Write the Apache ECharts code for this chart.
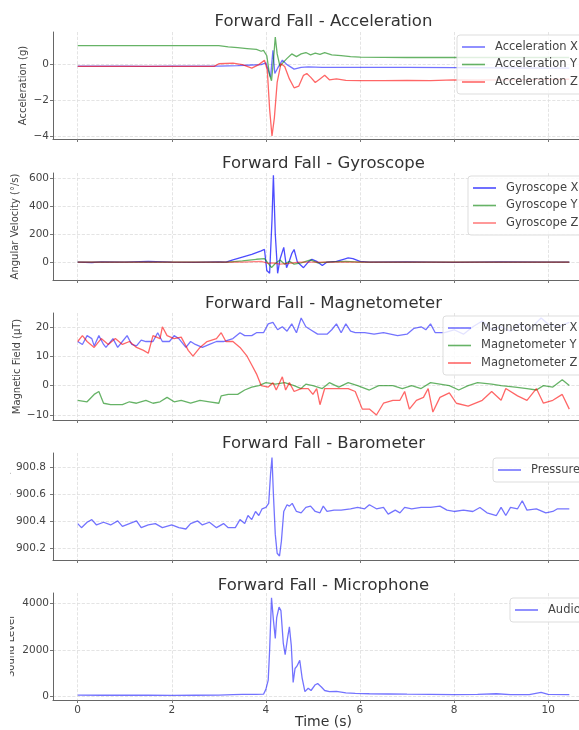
<!DOCTYPE html>
<html>
<head>
<meta charset="utf-8">
<script src="https://cdn.jsdelivr.net/npm/echarts@6/dist/echarts.min.js"></script>
<style>html,body{margin:0;padding:0;background:#fff}#c{width:579px;height:730px}</style>
</head>
<body>
<div id="c"></div>
<script>
// ---- data ([time s, value]) ----
const xTicks = [0, 2, 4, 6, 8, 10];

const accX = [[0,-0.08],[1,-0.08],[1.5,-0.1],[2,-0.08],[3,-0.08],[3.4,-0.05],[3.7,-0.02],[3.9,0.0],[4.0,0.1],[4.05,-0.3],[4.1,-0.7],[4.15,0.8],[4.19,-0.5],[4.25,-0.2],[4.35,0.25],[4.45,0.0],[4.6,-0.25],[4.75,-0.15],[4.9,-0.12],[5.2,-0.15],[6,-0.15],[7,-0.15],[8,-0.17],[9,-0.18],[10,-0.2],[10.45,-0.2]];
const accY = [[0,1.07],[1,1.07],[2,1.07],[3.0,1.07],[3.2,1.0],[3.4,0.95],[3.6,0.9],[3.8,0.85],[3.9,0.75],[3.95,0.8],[4.02,0.5],[4.08,-0.6],[4.12,-0.9],[4.16,0.2],[4.2,1.55],[4.24,0.6],[4.3,-0.1],[4.36,0.1],[4.45,0.35],[4.55,0.6],[4.65,0.45],[4.75,0.6],[4.85,0.68],[4.95,0.55],[5.05,0.65],[5.15,0.58],[5.25,0.67],[5.4,0.55],[5.6,0.5],[5.8,0.45],[6.0,0.42],[6.5,0.41],[7,0.4],[8,0.4],[9,0.4],[10,0.4],[10.45,0.4]];
const accZ = [[0,-0.1],[1,-0.1],[2,-0.1],[2.9,-0.1],[3.0,0.05],[3.3,0.08],[3.5,0.0],[3.7,-0.2],[3.85,0.0],[3.97,0.25],[4.03,-0.3],[4.08,-2.5],[4.13,-4.0],[4.18,-3.0],[4.24,-1.0],[4.32,0.05],[4.4,-0.1],[4.5,-0.8],[4.6,-1.3],[4.7,-1.2],[4.8,-0.6],[4.87,-0.5],[4.95,-0.7],[5.05,-1.0],[5.15,-0.8],[5.25,-0.6],[5.35,-0.85],[5.5,-0.8],[5.7,-0.88],[6.0,-0.9],[6.5,-0.9],[7,-0.88],[7.5,-0.9],[8,-0.85],[8.5,-0.87],[9,-0.85],[10,-0.83],[10.45,-0.82]];

const gyroX = [[0,0],[0.3,-3],[0.5,2],[1,0],[1.5,4],[2,0],[2.5,-2],[3,2],[3.15,0],[3.3,15],[3.5,35],[3.7,55],[3.9,80],[3.97,90],[4.02,-60],[4.08,-80],[4.13,300],[4.16,620],[4.2,200],[4.25,-80],[4.3,20],[4.38,105],[4.44,-40],[4.5,10],[4.55,60],[4.6,90],[4.67,0],[4.8,-40],[4.9,0],[4.98,20],[5.08,5],[5.2,-25],[5.3,0],[5.5,5],[5.65,20],[5.75,30],[5.85,25],[6.0,5],[6.2,0],[7,2],[8,-2],[9,2],[10,0],[10.45,0]];
const gyroY = [[0,0],[3.2,0],[3.5,8],[3.8,20],[3.97,25],[4.05,-10],[4.12,-40],[4.2,-10],[4.3,15],[4.4,-15],[4.5,5],[4.6,-15],[4.75,-5],[4.95,15],[5.1,-5],[5.3,0],[5.7,5],[6,0],[10.45,0]];
const gyroZ = [[0,0],[3.5,0],[3.9,5],[4.05,-10],[4.15,-5],[4.3,-15],[4.5,-10],[4.7,0],[5.0,0],[10.45,0]];

const magX = [[0,15],[0.1,14],[0.2,17],[0.3,16],[0.35,13.5],[0.45,17],[0.55,14],[0.6,13],[0.75,16],[0.85,13],[0.95,15],[1.05,17],[1.15,14],[1.25,13.5],[1.35,15.5],[1.45,15],[1.6,15],[1.7,18],[1.8,15],[1.95,15],[2.05,17],[2.15,16],[2.3,13],[2.4,15],[2.5,14],[2.65,13],[2.8,14],[2.95,15],[3.1,15],[3.3,16],[3.45,18],[3.55,17],[3.7,17],[3.8,18],[3.95,18],[4.05,21],[4.15,21.5],[4.25,19],[4.35,20],[4.45,18.5],[4.55,21],[4.65,18],[4.75,23],[4.85,20],[4.95,19],[5.1,17.5],[5.3,17.5],[5.4,19],[5.5,21],[5.6,18],[5.7,21],[5.8,18.5],[5.9,18],[6.1,18],[6.3,17.5],[6.5,18],[6.8,17],[7.0,17.5],[7.15,19.5],[7.3,20],[7.4,19],[7.5,21],[7.6,18],[7.8,18],[8.0,19],[8.2,17.5],[8.4,20],[8.6,22],[8.8,19],[9.0,20],[9.2,18.5],[9.4,21],[9.6,19],[9.85,23],[10.0,21],[10.2,20],[10.45,21.5]];
const magY = [[0,-5],[0.2,-5.5],[0.35,-3],[0.45,-2],[0.55,-6],[0.7,-6.5],[0.95,-6.5],[1.1,-5.5],[1.25,-6],[1.45,-5],[1.6,-6],[1.75,-5.5],[1.9,-4],[2.05,-5.5],[2.2,-5],[2.4,-6],[2.6,-5],[2.8,-5.5],[3.0,-6],[3.05,-3.5],[3.2,-3],[3.4,-3],[3.55,-1.5],[3.7,-0.5],[3.85,0],[4.0,1],[4.2,0.5],[4.4,1],[4.6,0],[4.75,-1],[4.85,0.5],[5.0,0],[5.2,-1],[5.35,1],[5.55,-0.5],[5.75,1],[5.95,0],[6.2,-1.5],[6.4,0],[6.7,0],[6.9,-1],[7.1,0],[7.3,-1],[7.5,1],[7.7,0.5],[7.9,0],[8.1,-1.5],[8.3,0],[8.5,1],[8.8,0.5],[9.0,0],[9.3,-0.5],[9.55,-1],[9.75,-1.5],[9.9,0],[10.1,-0.5],[10.3,2],[10.45,0]];
const magZ = [[0,15],[0.1,17],[0.2,15],[0.35,13],[0.5,16],[0.65,14],[0.8,16],[0.95,14],[1.1,15],[1.25,13],[1.4,12],[1.5,11],[1.6,17],[1.75,16],[1.8,20],[1.9,17],[2.05,16],[2.2,16.5],[2.35,12],[2.45,10],[2.6,13],[2.75,15],[2.95,16],[3.05,18],[3.15,15],[3.3,15],[3.45,13],[3.6,10],[3.7,7],[3.8,4],[3.9,0],[4.05,-0.5],[4.15,1],[4.22,-1.5],[4.35,3],[4.42,-1.5],[4.5,1],[4.6,-2],[4.75,-1],[4.9,-1],[5.0,-3],[5.08,-1],[5.15,-6.5],[5.25,-1],[5.5,-1],[5.75,-1],[5.9,-2],[6.05,-8],[6.2,-8],[6.35,-10],[6.5,-6],[6.7,-5],[6.85,-5],[6.95,-2],[7.05,-8],[7.2,-5],[7.35,-4],[7.45,-1],[7.55,-9],[7.7,-4],[7.9,-2.5],[8.05,-6],[8.3,-7],[8.6,-5],[8.8,-2],[9.0,-5],[9.1,-1],[9.35,-3.5],[9.55,-5],[9.75,-1],[9.9,-6],[10.1,-5],[10.3,-3],[10.45,-8]];

const pressure = [[0,900.38],[0.08,900.35],[0.2,900.39],[0.3,900.41],[0.4,900.37],[0.55,900.39],[0.7,900.37],[0.85,900.4],[0.95,900.36],[1.1,900.38],[1.25,900.4],[1.35,900.35],[1.5,900.37],[1.65,900.38],[1.8,900.35],[2.0,900.37],[2.15,900.35],[2.3,900.34],[2.4,900.38],[2.55,900.4],[2.65,900.37],[2.8,900.39],[2.95,900.35],[3.1,900.38],[3.2,900.35],[3.35,900.35],[3.45,900.41],[3.55,900.38],[3.62,900.44],[3.7,900.41],[3.78,900.47],[3.85,900.44],[3.92,900.49],[4.0,900.5],[4.06,900.53],[4.1,900.75],[4.13,900.87],[4.16,900.6],[4.2,900.3],[4.24,900.16],[4.29,900.14],[4.33,900.25],[4.38,900.47],[4.45,900.52],[4.5,900.51],[4.56,900.53],[4.65,900.47],[4.75,900.46],[4.85,900.5],[4.95,900.51],[5.05,900.47],[5.15,900.46],[5.22,900.51],[5.3,900.47],[5.45,900.48],[5.6,900.48],[5.8,900.49],[5.95,900.5],[6.1,900.49],[6.2,900.52],[6.35,900.49],[6.5,900.5],[6.6,900.45],[6.75,900.48],[6.85,900.46],[6.95,900.5],[7.1,900.49],[7.3,900.5],[7.5,900.5],[7.7,900.51],[7.85,900.48],[8.0,900.47],[8.2,900.48],[8.4,900.47],[8.55,900.5],[8.7,900.46],[8.9,900.44],[9.0,900.5],[9.1,900.44],[9.2,900.5],[9.35,900.49],[9.45,900.55],[9.55,900.48],[9.75,900.49],[9.95,900.46],[10.1,900.47],[10.2,900.49],[10.45,900.49]];

const audio = [[0,50],[0.5,45],[1,50],[1.5,45],[2,40],[2.5,45],[3,50],[3.3,70],[3.5,80],[3.8,80],[3.95,90],[4.0,300],[4.05,700],[4.08,2000],[4.12,4250],[4.16,3300],[4.2,2500],[4.23,3400],[4.28,3850],[4.32,3700],[4.37,2300],[4.41,1800],[4.46,2500],[4.5,3000],[4.54,2200],[4.58,600],[4.62,1200],[4.66,1300],[4.72,1550],[4.77,800],[4.83,200],[4.9,350],[4.96,250],[5.05,500],[5.1,550],[5.18,400],[5.25,250],[5.35,200],[5.5,210],[5.7,150],[5.9,130],[6.2,110],[6.6,100],[7.0,90],[7.5,85],[8.0,70],[8.5,80],[8.9,110],[9.2,70],[9.6,70],[9.85,170],[10.0,80],[10.45,70]];

// ---- panels ----
const panels = [
  {title:'Forward Fall - Acceleration', yName:'Acceleration (g)', ymin:-4.17, ymax:1.83, yTicks:[-4,-2,0], nameGap:25, labelMargin:4,
   series:[['Acceleration X',accX,'rgba(0,0,255,0.55)'],['Acceleration Y',accY,'rgba(0,128,0,0.6)'],['Acceleration Z',accZ,'rgba(255,0,0,0.6)']], legendLeft:457, legendTop:35},
  {title:'Forward Fall - Gyroscope', yName:'Angular Velocity (°/s)', ymin:-128, ymax:636, yTicks:[0,200,400,600], nameGap:33, labelMargin:4,
   series:[['Gyroscope X',gyroX,'rgba(0,0,255,0.7)'],['Gyroscope Y',gyroY,'rgba(0,128,0,0.6)'],['Gyroscope Z',gyroZ,'rgba(255,0,0,0.5)']], legendLeft:468, legendTop:176},
  {title:'Forward Fall - Magnetometer', yName:'Magnetic Field (μT)', ymin:-11.7, ymax:24.7, yTicks:[-10,0,10,20], nameGap:31, labelMargin:4,
   series:[['Magnetometer X',magX,'rgba(0,0,255,0.55)'],['Magnetometer Y',magY,'rgba(0,128,0,0.6)'],['Magnetometer Z',magZ,'rgba(255,0,0,0.6)']], legendLeft:443, legendTop:316},
  {title:'Forward Fall - Barometer', yName:'Pressure (hPa)', ymin:900.11, ymax:900.904, yTicks:[900.2,900.4,900.6,900.8], nameGap:42, labelMargin:7,
   series:[['Pressure',pressure,'rgba(0,0,255,0.55)']], legendLeft:493, legendTop:458},
  {title:'Forward Fall - Microphone', yName:'Sound Level', ymin:-160, ymax:4460, yTicks:[0,2000,4000], nameGap:37, labelMargin:4,
   series:[['Audio',audio,'rgba(0,0,255,0.55)']], legendLeft:510, legendTop:598}
];
const tops = [32,173,313,453,593];
const titleTops = [13,155,295,435,577];
const FONT = 'DejaVu Sans';

const option = {animation:false, backgroundColor:'#fff', title:[], grid:[], xAxis:[], yAxis:[], legend:[], series:[],
  // left edge of the lower panels is cropped in the reference (y-axis names partly cut off)
  graphic:[{type:'rect', left:0, top:445, shape:{width:10, height:270}, style:{fill:'#fff'}, z:100, silent:true}]};
panels.forEach((p,i)=>{
  const last = i===panels.length-1;
  option.title.push({text:p.title, left:323.5, top:titleTops[i], padding:0, textAlign:'center',
    textStyle:{fontFamily:FONT, fontSize:16.5, fontWeight:'normal', color:'#333'}});
  option.grid.push({left:53, top:tops[i], width:541, height:107, outerBoundsMode:'none', containLabel:false});
  option.xAxis.push({type:'value', gridIndex:i, min:-0.525, max:10.975,
    axisLine:{show:true, onZero:false, lineStyle:{color:'#666', width:1.2}},
    axisTick:{show:true, length:3, lineStyle:{color:'#777'}, customValues:xTicks},
    axisLabel:{show:last, customValues:xTicks, margin:5, fontFamily:FONT, fontSize:10.5, color:'#444'},
    splitLine:{show:true, lineStyle:{color:'#ddd', type:'dashed', width:0.8}},
    name:last?'Time (s)':'', nameLocation:'middle', nameGap:15, nameMoveOverlap:false,
    nameTextStyle:{fontFamily:FONT, fontSize:14, color:'#333'}});
  option.yAxis.push({type:'value', gridIndex:i, min:p.ymin, max:p.ymax,
    axisLine:{show:true, onZero:false, lineStyle:{color:'#666', width:1}},
    axisTick:{show:true, length:3, lineStyle:{color:'#777'}, customValues:p.yTicks},
    axisLabel:{customValues:p.yTicks, margin:p.labelMargin, fontFamily:FONT, fontSize:10.5, color:'#444',
      formatter:v=>String(Math.round(v*10)/10).replace('-','\u2212')},
    splitLine:{show:true, lineStyle:{color:'#ddd', type:'dashed', width:0.8}},
    name:p.yName, nameLocation:'middle', nameGap:p.nameGap, nameRotate:90, nameMoveOverlap:false,
    nameTextStyle:{fontFamily:FONT, fontSize:10, color:'#444'}});
  option.legend.push({orient:'vertical', left:p.legendLeft, top:p.legendTop,
    data:p.series.map(s=>({name:s[0], icon:'rect'})), itemWidth:23, itemHeight:1.6, itemGap:3.5,
    padding:[5,80,5,5], backgroundColor:'rgba(255,255,255,0.8)', borderColor:'#ddd', borderWidth:1, borderRadius:3,
    textStyle:{fontFamily:FONT, fontSize:11.5, color:'#444', padding:[0,0,0,5], lineHeight:14}, selectedMode:false});
  p.series.forEach(s=>{
    option.series.push({type:'line', name:s[0], xAxisIndex:i, yAxisIndex:i, data:s[1],
      symbol:'none', showSymbol:false, lineStyle:{color:s[2], width:1.3}, itemStyle:{color:s[2]}, z:2});
  });
});
const chart = echarts.init(document.getElementById('c'), null, {renderer:'canvas'});
chart.setOption(option);
</script>
</body>
</html>
